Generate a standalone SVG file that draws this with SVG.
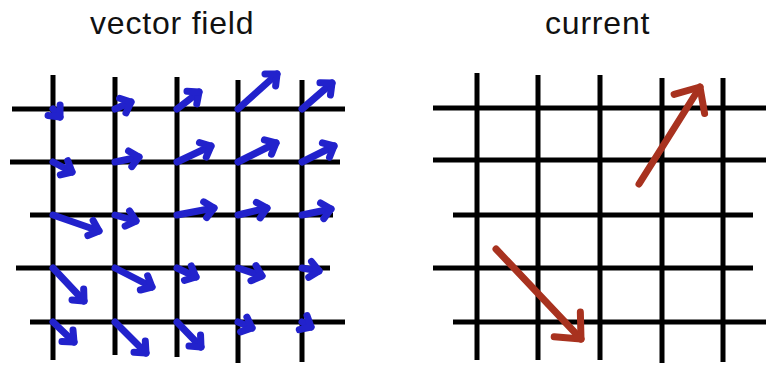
<svg xmlns="http://www.w3.org/2000/svg" width="766" height="365" viewBox="0 0 766 365">
<style>
.t{font-family:"Liberation Sans",Arial,sans-serif;font-size:32px;letter-spacing:0.8px;fill:#111}
.g line{stroke:#000;stroke-width:5}
.b line{stroke:#2222cc;stroke-width:7;stroke-linecap:round;marker-end:url(#hb)}
.r line{stroke:#a8321f;stroke-width:7;stroke-linecap:round;marker-end:url(#hr)}
</style>
<defs>
<marker id="hb" markerUnits="userSpaceOnUse" viewBox="-16 -14 24 28" markerWidth="24" markerHeight="28" refX="0" refY="0" orient="auto">
<path d="M-9,-8 L0,0 L-9,8" fill="none" stroke="#2222cc" stroke-width="7" stroke-linejoin="round" stroke-linecap="round"/>
</marker>
<marker id="hr" markerUnits="userSpaceOnUse" viewBox="-28 -26 36 52" markerWidth="36" markerHeight="52" refX="0" refY="0" orient="auto">
<path d="M-20,-18 L0,0 L-20,18" fill="none" stroke="#a8321f" stroke-width="7" stroke-linejoin="round" stroke-linecap="round"/>
</marker>
</defs>
<rect width="766" height="365" fill="#fff"/>
<text class="t" x="90" y="34">vector field</text>
<text class="t" x="545" y="34">current</text>
<g id="grid-left" class="g">
<line x1="53" y1="75" x2="53" y2="360"/>
<line x1="115" y1="77" x2="115" y2="355"/>
<line x1="177" y1="77" x2="177" y2="357"/>
<line x1="238" y1="80" x2="238" y2="363"/>
<line x1="302" y1="80" x2="302" y2="362"/>
<line x1="12" y1="109" x2="345" y2="109"/>
<line x1="10" y1="162" x2="340" y2="162"/>
<line x1="30" y1="215" x2="333" y2="215"/>
<line x1="16" y1="268" x2="330" y2="268"/>
<line x1="30" y1="322" x2="345" y2="322"/>
</g>
<g id="vectors" class="b">
<line x1="53" y1="109" x2="60" y2="117"/>
<line x1="115" y1="109" x2="131" y2="102"/>
<line x1="177" y1="109" x2="199" y2="92"/>
<line x1="238" y1="109" x2="277" y2="74"/>
<line x1="302" y1="109" x2="332" y2="83"/>
<line x1="53" y1="162" x2="72" y2="172"/>
<line x1="115" y1="162" x2="139" y2="157"/>
<line x1="177" y1="162" x2="211" y2="146"/>
<line x1="238" y1="162" x2="276" y2="143"/>
<line x1="302" y1="162" x2="334" y2="146"/>
<line x1="53" y1="215" x2="99" y2="231"/>
<line x1="115" y1="215" x2="136" y2="221"/>
<line x1="177" y1="215" x2="214" y2="208"/>
<line x1="238" y1="215" x2="267" y2="208"/>
<line x1="302" y1="215" x2="331" y2="209"/>
<line x1="53" y1="268" x2="84" y2="301"/>
<line x1="115" y1="268" x2="152" y2="287"/>
<line x1="177" y1="268" x2="196" y2="277"/>
<line x1="238" y1="268" x2="262" y2="276"/>
<line x1="302" y1="268" x2="319" y2="271"/>
<line x1="53" y1="322" x2="74" y2="342"/>
<line x1="115" y1="322" x2="146" y2="353"/>
<line x1="177" y1="322" x2="201" y2="347"/>
<line x1="238" y1="322" x2="252" y2="328"/>
<line x1="302" y1="322" x2="311" y2="327"/>
</g>
<g id="grid-right" class="g">
<line x1="477" y1="73" x2="477" y2="360"/>
<line x1="538" y1="75" x2="538" y2="360"/>
<line x1="600" y1="75" x2="600" y2="360"/>
<line x1="662" y1="78" x2="662" y2="363"/>
<line x1="723" y1="78" x2="723" y2="362"/>
<line x1="433" y1="108" x2="766" y2="108"/>
<line x1="433" y1="160" x2="766" y2="160"/>
<line x1="453" y1="215" x2="753" y2="215"/>
<line x1="433" y1="268" x2="753" y2="268"/>
<line x1="453" y1="322" x2="766" y2="322"/>
</g>
<g id="currents" class="r">
<line x1="639" y1="184" x2="700" y2="87"/>
<line x1="496" y1="249" x2="581" y2="339"/>
</g>
</svg>
